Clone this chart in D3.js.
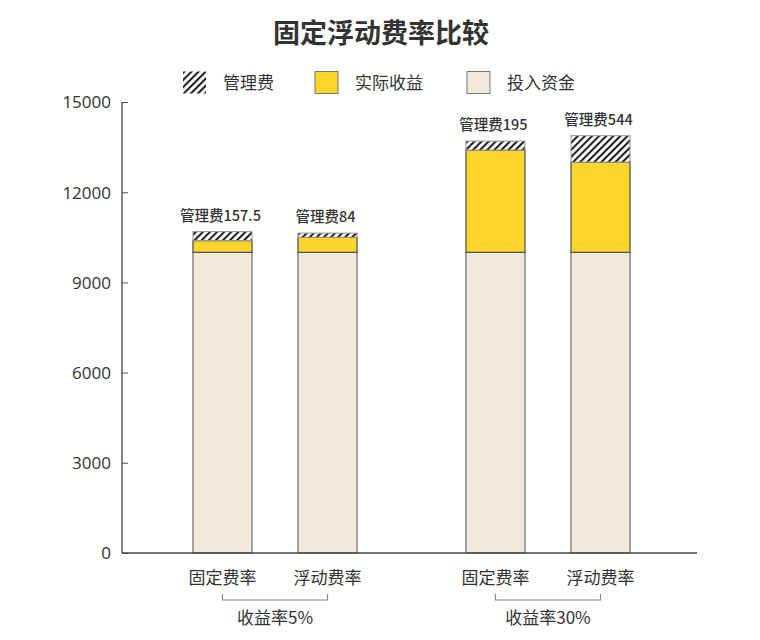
<!DOCTYPE html>
<html><head><meta charset="utf-8">
<script src="https://cdn.jsdelivr.net/npm/d3@7"></script>
<style>
body{margin:0;background:#fff;}
svg{font-family:"Noto Sans CJK SC","Noto Sans",sans-serif;}
</style></head>
<body><svg id="c" width="760" height="640"></svg>
<script>
const groups = ["收益率5%", "收益率30%"];
const categories = ["固定费率", "浮动费率"];
const principal = [10000, 10000, 10000, 10000];
const returns = [390, 500, 3400, 3000];
const fees = [300, 140, 300, 880];
const feeLabels = ["管理费157.5", "管理费84", "管理费195", "管理费544"];
const yTicks = [0, 3000, 6000, 9000, 12000, 15000];
const legendNames = ["管理费", "实际收益", "投入资金"];

const colors = {principal:"#f1eadb", returns:"#fed52b"};
const svg = d3.select("#c");
const defs = svg.append("defs");
const pat = defs.append("pattern").attr("id","hatch").attr("patternUnits","userSpaceOnUse")
  .attr("width",5).attr("height",5).attr("patternTransform","rotate(45)");
pat.append("rect").attr("width",5).attr("height",5).attr("fill","#fff");
pat.append("line").attr("x1",1).attr("y1",0).attr("x2",1).attr("y2",5)
  .attr("stroke","#222").attr("stroke-width",2.2);

const mLeft = 122, mRight = 697, mTop = 102, mBottom = 553;
const y = d3.scaleLinear().domain([0, 15000]).range([mBottom, mTop]);
const xg = d3.scaleBand().domain(groups).range([mLeft, 701]).paddingInner(0.399).paddingOuter(0.26);
const xc = d3.scaleBand().domain(categories).range([0, xg.bandwidth()]).paddingInner(0.438).paddingOuter(0);

// title
svg.append("text").attr("x",381).attr("y",43).attr("text-anchor","middle")
  .attr("font-size",27).attr("font-weight","bold").attr("fill","#333").text("固定浮动费率比较");

// legend
const legX = [183, 315, 467];
const legFill = ["url(#hatch)", colors.returns, colors.principal];
legendNames.forEach((n,i)=>{
  svg.append("rect").attr("x",legX[i]).attr("y",71.5).attr("width",23).attr("height",22)
    .attr("fill",legFill[i]).attr("stroke", i===0 ? "none" : "#777").attr("stroke-width",1);
  svg.append("text").attr("x",legX[i]+40).attr("y",89).attr("font-size",17).attr("fill","#333").text(n);
});

// y axis
const yAxis = d3.axisRight(y).tickValues(yTicks).tickSize(6).tickFormat(d=>d);
const ga = svg.append("g").attr("transform",`translate(${mLeft},0)`).call(yAxis);
ga.select(".domain").remove();
ga.selectAll(".tick line").attr("stroke","#555");
ga.selectAll(".tick text").attr("x",-11).attr("text-anchor","end").attr("font-size",17)
  .attr("fill","#333").attr("dy","0.35em").attr("font-family","'Open Sans','Noto Sans',sans-serif");
svg.append("line").attr("x1",mLeft).attr("x2",mLeft).attr("y1",mTop).attr("y2",mBottom).attr("stroke","#333").attr("stroke-width",1.2);

// bars
const data = [];
groups.forEach((g,gi)=>categories.forEach((c,ci)=>{
  const i = gi*2+ci;
  data.push({g, c, p:principal[i], r:returns[i], f:fees[i], label:feeLabels[i]});
}));
const bars = svg.append("g").selectAll("g").data(data).join("g")
  .attr("transform", d=>`translate(${xg(d.g)+xc(d.c)},0)`);
const bw = xc.bandwidth();
bars.append("rect").attr("width",bw).attr("y",d=>y(d.p)).attr("height",d=>y(0)-y(d.p))
  .attr("fill",colors.principal).attr("stroke","#777").attr("stroke-width",1.3);
bars.append("rect").attr("width",bw).attr("y",d=>y(d.p+d.r)).attr("height",d=>y(d.p)-y(d.p+d.r))
  .attr("fill",colors.returns).attr("stroke","#555").attr("stroke-width",1.3);
bars.append("rect").attr("width",bw).attr("y",d=>y(d.p+d.r+d.f)).attr("height",d=>y(d.p+d.r)-y(d.p+d.r+d.f))
  .attr("fill","url(#hatch)").attr("stroke","#999").attr("stroke-width",1);
bars.append("text").attr("x",bw/2 - 2).attr("y",d=>y(d.p+d.r+d.f)-11).attr("text-anchor","middle")
  .attr("font-size",14.5).attr("font-weight",500).attr("fill","#333").text(d=>d.label);

// x axis line
svg.append("line").attr("x1",mLeft).attr("x2",mRight).attr("y1",mBottom).attr("y2",mBottom).attr("stroke","#444").attr("stroke-width",1.3);

// category labels
bars.append("text").attr("x",bw/2).attr("y",584).attr("text-anchor","middle")
  .attr("font-size",17).attr("fill","#333").text(d=>d.c);

// brackets and group labels
groups.forEach(g=>{
  const x1 = xg(g)+xc(categories[0])+bw/2, x2 = xg(g)+xc(categories[1])+bw/2;
  svg.append("path").attr("d",`M${x1},594V600H${x2}V594`).attr("fill","none").attr("stroke","#888").attr("stroke-width",1.2);
  svg.append("text").attr("x",(x1+x2)/2).attr("y",624).attr("text-anchor","middle")
    .attr("font-size",17).attr("fill","#333").text(g);
});
</script></body></html>
